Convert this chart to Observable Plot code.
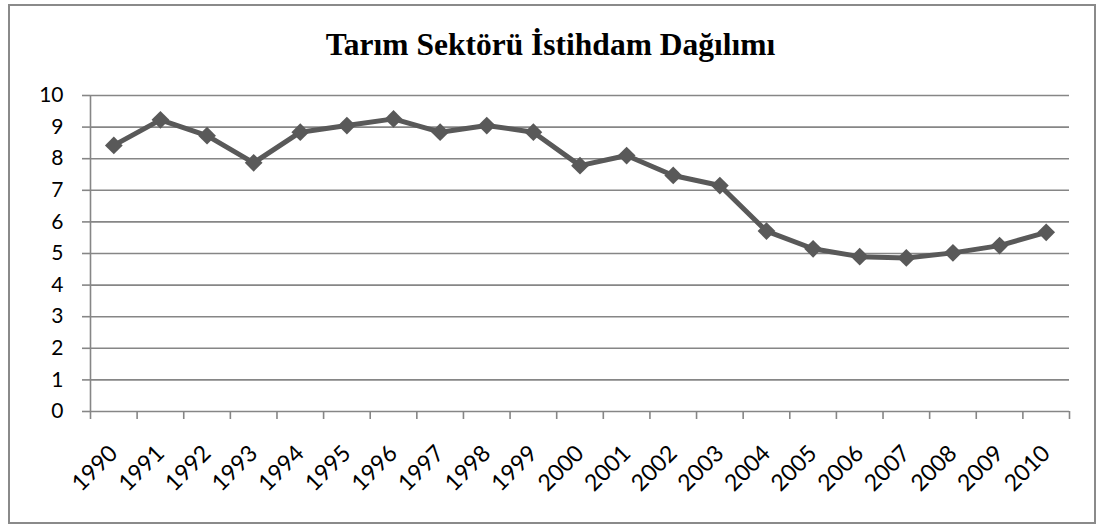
<!DOCTYPE html>
<html>
<head>
<meta charset="utf-8">
<script src="https://cdn.jsdelivr.net/npm/d3@7"></script>
<script src="https://cdn.jsdelivr.net/npm/@observablehq/plot@0.6"></script>
<style>
  html, body { margin: 0; padding: 0; background: #fff; }
  #wrap { position: relative; width: 1101px; height: 528px; }
  #frame { position: absolute; left: 8px; top: 4px; width: 1088px; height: 520px; border: 2px solid #8a8a8a; box-sizing: border-box; }
  #title { position: absolute; left: 0; width: 1101px; top: 29px; text-align: center; line-height: 1;
           font-family: "Liberation Serif", "Times New Roman", serif; font-weight: bold; font-size: 31.5px; color: #000; }
  #chart { position: absolute; left: 0; top: 0; }
</style>
</head>
<body>
<div id="wrap">
  <div id="frame"></div>
  <div id="title">Tarım Sektörü İstihdam Dağılımı</div>
  <div id="chart"></div>
</div>
<script>
const years = [1990,1991,1992,1993,1994,1995,1996,1997,1998,1999,2000,2001,2002,2003,2004,2005,2006,2007,2008,2009,2010];
const values = [8.42,9.23,8.73,7.87,8.84,9.05,9.26,8.84,9.05,8.84,7.78,8.10,7.47,7.15,5.71,5.15,4.90,4.86,5.02,5.25,5.67];
const yTicks = [0,1,2,3,4,5,6,7,8,9,10];

const data = years.map((y, i) => ({year: y, value: values[i]}));
const boundaries = years.map(y => y - 0.5).concat([years[years.length - 1] + 0.5]);

const gray = "#595959";
const axisGray = "#868686";

const chart = Plot.plot({
  width: 1101,
  height: 528,
  marginLeft: 90,
  marginRight: 32,
  marginTop: 95,
  marginBottom: 117,
  style: {background: "transparent", fontFamily: "Lato, 'Open Sans', sans-serif", color: "#000"},
  x: {type: "linear", domain: [years[0] - 0.5, years[years.length - 1] + 0.5]},
  y: {domain: [0, 10]},
  marks: [
    Plot.gridY(yTicks, {stroke: axisGray, strokeOpacity: 1, strokeWidth: 1.6}),
    Plot.ruleX([boundaries[0]], {stroke: axisGray, strokeWidth: 1.6}),
    Plot.axisY(yTicks, {tickSize: 8, tickPadding: 19, fontSize: 21, stroke: axisGray, strokeWidth: 1.6, label: null, tickFormat: d => String(d)}),
    Plot.axisX(boundaries, {tickSize: 8, tickFormat: () => "", stroke: axisGray, strokeWidth: 1.6, label: null}),
    Plot.axisX(years, {tickSize: 0, tickPadding: 38, tickRotate: -45, fontSize: 23, tickFormat: d => String(d), label: null}),
    Plot.line(data, {x: "year", y: "value", stroke: gray, strokeWidth: 5}),
    Plot.dot(data, {x: "year", y: "value", symbol: "diamond2", r: 8, fill: gray, stroke: null})
  ]
});
document.getElementById("chart").appendChild(chart);
</script>
</body>
</html>
